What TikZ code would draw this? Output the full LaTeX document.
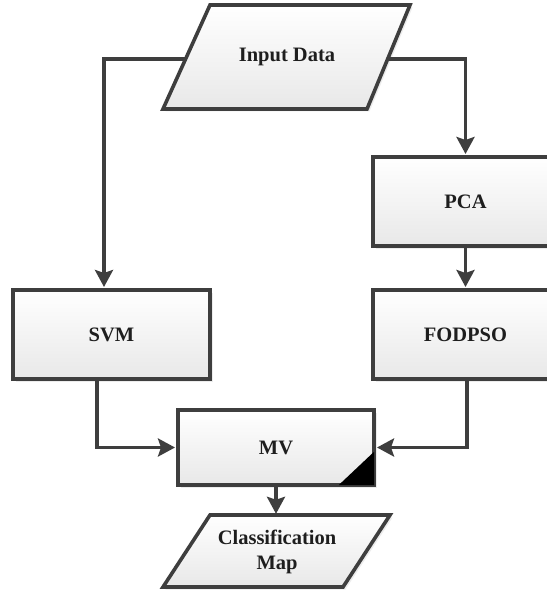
\documentclass[tikz,border=0pt]{standalone}
\usepackage{fontspec}
\setmainfont{Liberation Serif}
\usetikzlibrary{arrows.meta,shadows}
\definecolor{edgegray}{HTML}{3E3E3E}
\definecolor{txtgray}{HTML}{1E1E1E}
\begin{document}
\begin{tikzpicture}[x=1pt,y=-1pt,
  shapefill/.style={top color=white,bottom color=black!9,draw=edgegray,line width=3.6pt,line join=miter,
    drop shadow={opacity=0.15,shadow xshift=2.5pt,shadow yshift=-2.5pt}},
  procbox/.style={shapefill,rectangle,inner sep=0pt},
  txt/.style={font=\bfseries\fontsize{20.5}{25}\selectfont,text=txtgray,align=center},
  conn/.style={draw=edgegray,line width=3.4pt,shorten >=1.2pt,
    -{Stealth[length=17pt,width=18pt,inset=3pt]}}
]
\useasboundingbox (0,0) rectangle (546,593);
\fill[white] (0,0) rectangle (546,593);

% boxes
\node[procbox,minimum width=197pt,minimum height=89pt] (svm) at (111.5,334.5) {};
\node[procbox,minimum width=185pt,minimum height=89pt] (pca) at (465.5,201.5) {};
\node[procbox,minimum width=185pt,minimum height=89pt] (fod) at (465.5,334.5) {};
\node[procbox,minimum width=196pt,minimum height=75pt] (mv) at (276,447.5) {};
\fill[black] ([shift={(-37pt,1.8pt)}]mv.south east) -- ([shift={(-1.8pt,1.8pt)}]mv.south east)
  -- ([shift={(-1.8pt,35pt)}]mv.south east) -- cycle;

% parallelograms
\path[shapefill] (210,5) -- (410,5) -- (367,109) -- (163,109) -- cycle;
\path[shapefill] (210,515) -- (390,515) -- (343,587) -- (163,587) -- cycle;
\coordinate (inL) at (185,59);
\coordinate (inR) at (387,59);
\coordinate (cmtop) at (277,515);

% texts
\node[txt] (inp) at (287,57) {Input Data};
\node[txt] at (svm) {SVM};
\node[txt] at (pca) {PCA};
\node[txt] at (fod) {FODPSO};
\node[txt] at (mv) {MV};
\node[txt] (cm) at (277,552) {Classification\\Map};

% connectors
\draw[conn] (inL) -| ([xshift=-7.5pt]svm.north);
\draw[conn] (inR) -| (pca.north);
\draw[conn] (pca.south) -- (fod.north);
\draw[conn] ([xshift=1.5pt]fod.south) |- (mv.east);
\draw[conn] ([xshift=-14.5pt]svm.south) |- (mv.west);
\draw[conn] (mv.south) -- (mv.south |- cmtop);
\end{tikzpicture}
\end{document}
